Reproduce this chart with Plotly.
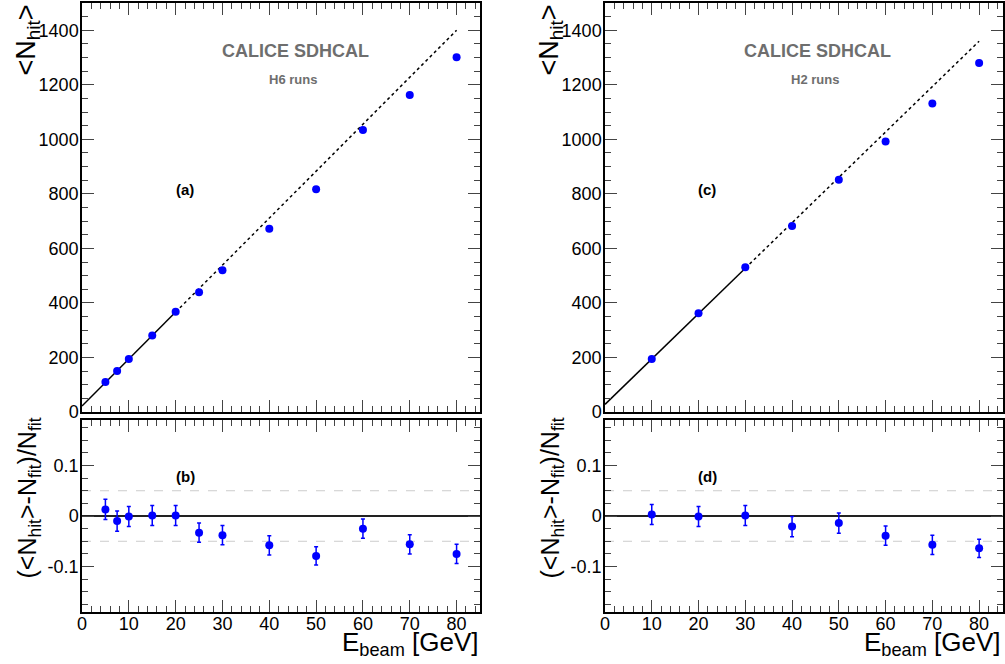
import plotly.graph_objects as go

# ---------------- data ----------------
e_h6 = [5, 7.5, 10, 15, 20, 25, 30, 40, 50, 60, 70, 80]
nhit_h6 = [110, 150, 194, 281, 368, 439, 520, 672, 817, 1034, 1163, 1301]
res_h6 = [0.013, -0.010, -0.001, 0.001, 0.001, -0.033, -0.038, -0.058, -0.079, -0.025, -0.056, -0.075]
res_err_h6 = [0.02, 0.02, 0.02, 0.02, 0.02, 0.019, 0.019, 0.019, 0.018, 0.019, 0.019, 0.019]

e_h2 = [10, 20, 30, 40, 50, 60, 70, 80]
nhit_h2 = [194, 362, 531, 682, 852, 992, 1131, 1280]
res_h2 = [0.003, -0.001, 0.001, -0.021, -0.014, -0.039, -0.057, -0.064]
res_err_h2 = [0.02, 0.02, 0.02, 0.02, 0.02, 0.019, 0.019, 0.018]

# linear fits (intercept, slope) and fit ranges
fit_h6 = (22.0, 17.225)
fit_h6_solid = [0, 20]
fit_h6_dotted = [20, 80]
fit_h2 = (28.0, 16.65)
fit_h2_solid = [0, 30]
fit_h2_dotted = [30, 80]

x_ticks = [0, 10, 20, 30, 40, 50, 60, 70, 80]
y_ticks_top = [0, 200, 400, 600, 800, 1000, 1200, 1400]
y_ticks_bot = [-0.1, 0, 0.1]
y_tick_text_bot = ["-0.1", "0", "0.1"]

W, H = 1005, 664
FONT = "Liberation Sans, Arial, Helvetica, sans-serif"
BLUE = "rgb(0,0,255)"


def fx(px):
    return px / W


def fy(py):
    return 1 - py / H


def fitline(fit, xs):
    a, b = fit
    return [a + b * x for x in xs]


fig = go.Figure()

# top-left
fig.add_trace(go.Scatter(x=fit_h6_solid, y=fitline(fit_h6, fit_h6_solid), mode="lines",
                         line=dict(color="black", width=1.5), xaxis="x", yaxis="y", showlegend=False))
fig.add_trace(go.Scatter(x=fit_h6_dotted, y=fitline(fit_h6, fit_h6_dotted), mode="lines",
                         line=dict(color="black", width=1.5, dash="dot"), xaxis="x", yaxis="y", showlegend=False))
fig.add_trace(go.Scatter(x=e_h6, y=nhit_h6, mode="markers", marker=dict(color=BLUE, size=8),
                         xaxis="x", yaxis="y", showlegend=False))
# bottom-left
fig.add_trace(go.Scatter(x=e_h6, y=res_h6, mode="markers", marker=dict(color=BLUE, size=8),
                         error_y=dict(type="data", array=res_err_h6, color=BLUE, thickness=1.5, width=2),
                         xaxis="x2", yaxis="y2", showlegend=False))
# top-right
fig.add_trace(go.Scatter(x=fit_h2_solid, y=fitline(fit_h2, fit_h2_solid), mode="lines",
                         line=dict(color="black", width=1.5), xaxis="x3", yaxis="y3", showlegend=False))
fig.add_trace(go.Scatter(x=fit_h2_dotted, y=fitline(fit_h2, fit_h2_dotted), mode="lines",
                         line=dict(color="black", width=1.5, dash="dot"), xaxis="x3", yaxis="y3", showlegend=False))
fig.add_trace(go.Scatter(x=e_h2, y=nhit_h2, mode="markers", marker=dict(color=BLUE, size=8),
                         xaxis="x3", yaxis="y3", showlegend=False))
# bottom-right
fig.add_trace(go.Scatter(x=e_h2, y=res_h2, mode="markers", marker=dict(color=BLUE, size=8),
                         error_y=dict(type="data", array=res_err_h2, color=BLUE, thickness=1.5, width=2),
                         xaxis="x4", yaxis="y4", showlegend=False))

left_dom = [fx(82), fx(480)]
right_dom = [fx(605), fx(1002.5)]
top_dom = [fy(412), fy(3)]
bot_dom = [fy(612), fy(420)]

tickfont = dict(family=FONT, size=18, color="black")


def xax(domain, anchor, showlabels):
    return dict(domain=domain, anchor=anchor, range=[0, 85], tickvals=x_ticks, automargin=False,
                showticklabels=showlabels, ticks="inside", ticklen=12, tickwidth=1,
                ticklabelstandoff=-5,
                mirror="allticks", showline=True, linecolor="black", linewidth=1.5,
                showgrid=False, zeroline=False, tickfont=tickfont,
                minor=dict(ticks="inside", ticklen=6, dtick=2, tick0=0, tickwidth=1, showgrid=False))


def yax_top(domain, anchor):
    return dict(domain=domain, anchor=anchor, range=[0, 1500], tickvals=y_ticks_top, automargin=False,
                ticks="inside", ticklen=12, tickwidth=1, mirror="allticks", showline=True,
                ticklabelstandoff=-2,
                linecolor="black", linewidth=1.5, showgrid=False, zeroline=False, tickfont=tickfont,
                minor=dict(ticks="inside", ticklen=6, dtick=50, tick0=0, tickwidth=1, showgrid=False))


def yax_bot(domain, anchor):
    return dict(domain=domain, anchor=anchor, range=[-0.19, 0.19], tickvals=y_ticks_bot,
                ticktext=y_tick_text_bot, automargin=False,
                ticks="inside", ticklen=12, tickwidth=1, mirror="allticks", showline=True,
                ticklabelstandoff=-2,
                linecolor="black", linewidth=1.5, showgrid=False, zeroline=False, tickfont=tickfont,
                minor=dict(ticks="inside", ticklen=6, dtick=0.025, tick0=0, tickwidth=1, showgrid=False))


fig.update_layout(
    width=W, height=H, margin=dict(l=0, r=0, t=0, b=0, autoexpand=False),
    paper_bgcolor="white", plot_bgcolor="white",
    font=dict(family=FONT, color="black"),
    xaxis=xax(left_dom, "y", False),
    yaxis=yax_top(top_dom, "x"),
    xaxis2=xax(left_dom, "y2", True),
    yaxis2=yax_bot(bot_dom, "x2"),
    xaxis3=xax(right_dom, "y3", False),
    yaxis3=yax_top(top_dom, "x3"),
    xaxis4=xax(right_dom, "y4", True),
    yaxis4=yax_bot(bot_dom, "x4"),
)

# reference lines in residual panels
for xr, yr in (("x2", "y2"), ("x4", "y4")):
    fig.add_shape(type="line", xref=xr + " domain", yref=yr, x0=0, x1=1, y0=0, y1=0,
                  line=dict(color="#222222", width=2), layer="below")
    for v in (0.05, -0.05):
        fig.add_shape(type="line", xref=xr + " domain", yref=yr, x0=0, x1=1, y0=v, y1=v,
                      line=dict(color="#cccccc", width=1, dash="dash"), layer="below")

ann = []
ytitle_top = "&lt;N<sub>hit</sub>&gt;"
ytitle_bot = "(&lt;N<sub>hit</sub>&gt;-N<sub>fit</sub>)/N<sub>fit</sub>"
xtitle = "E<sub>beam</sub> [GeV]"
for x_title_px, x_right_px, x_calice, runs, lab_top, lab_bot in (
        (28, 481, 295, "H6 runs", "(a)", "(b)"),
        (551, 1003, 817, "H2 runs", "(c)", "(d)")):
    ann.append(dict(x=fx(x_title_px), y=fy(3), xref="paper", yref="paper", text=ytitle_top,
                    textangle=-90, xanchor="center", yanchor="top", showarrow=False,
                    font=dict(family=FONT, size=27, color="black")))
    ann.append(dict(x=fx(x_title_px), y=fy(416), xref="paper", yref="paper", text=ytitle_bot,
                    textangle=-90, xanchor="center", yanchor="top", showarrow=False,
                    font=dict(family=FONT, size=25, color="black")))
    ann.append(dict(x=fx(x_right_px), y=fy(662), xref="paper", yref="paper", text=xtitle,
                    xanchor="right", yanchor="bottom", showarrow=False,
                    font=dict(family=FONT, size=26, color="black")))
    ann.append(dict(x=fx(x_calice), y=fy(51), xref="paper", yref="paper",
                    text="<b>CALICE SDHCAL</b>", xanchor="center", yanchor="middle", showarrow=False,
                    font=dict(family=FONT, size=18, color="#6e6e6e")))
    ann.append(dict(x=fx(x_calice - 2), y=fy(79), xref="paper", yref="paper",
                    text="<b>" + runs + "</b>", xanchor="center", yanchor="middle", showarrow=False,
                    font=dict(family=FONT, size=13, color="#6e6e6e")))
    ann.append(dict(x=fx(x_calice - 110), y=fy(189), xref="paper", yref="paper",
                    text="<b>" + lab_top + "</b>", xanchor="center", yanchor="middle", showarrow=False,
                    font=dict(family=FONT, size=15, color="black")))
    ann.append(dict(x=fx(x_calice - 110), y=fy(476), xref="paper", yref="paper",
                    text="<b>" + lab_bot + "</b>", xanchor="center", yanchor="middle", showarrow=False,
                    font=dict(family=FONT, size=15, color="black")))
fig.update_layout(annotations=ann)

fig.write_html("out.html", config={"displayModeBar": False},
               post_script="document.body.style.margin='0';document.body.style.overflow='hidden';")
